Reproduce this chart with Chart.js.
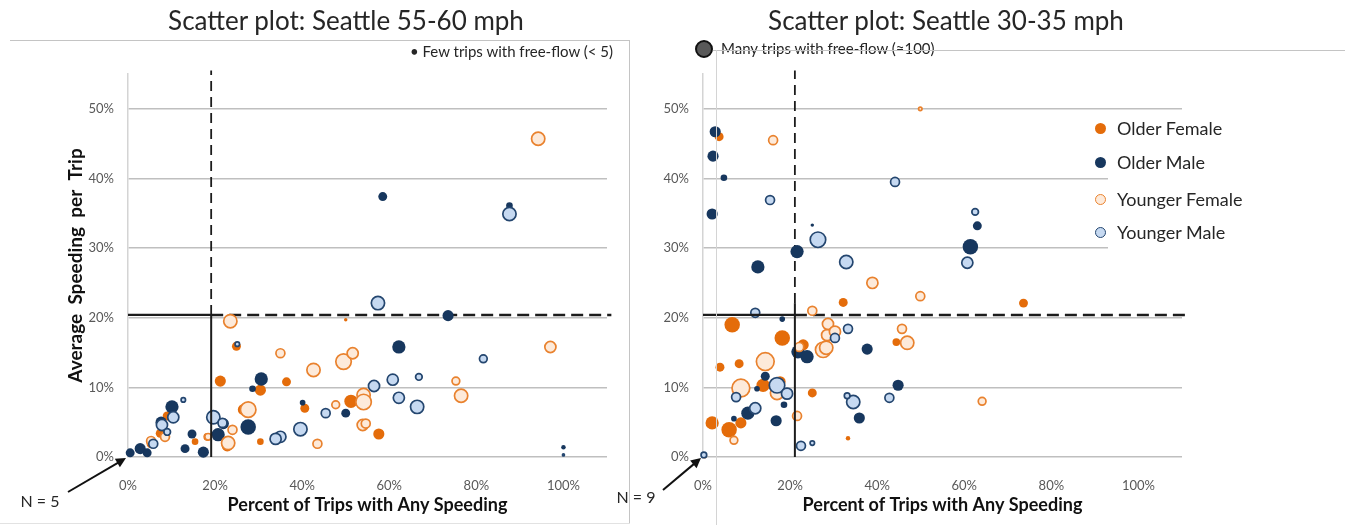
<!DOCTYPE html>
<html>
<head>
<meta charset="utf-8">
<script src="https://cdn.jsdelivr.net/npm/chart.js@4.4.1/dist/chart.umd.min.js"></script>
<style>
  body { margin: 0; width: 1345px; height: 525px; position: relative; overflow: hidden; background: #fff; font-family: Lato, "Open Sans", sans-serif; color: #262626; }
  canvas { position: absolute; top: 0; }
  .titulo { position: absolute; top: 4px; font-size: 26px; white-space: nowrap; transform: translateX(-50%); }
  .nota { position: absolute; font-size: 15px; white-space: nowrap; }
  .marco { position: absolute; background: #c4c4c4; }
  #leyenda { position: absolute; left: 1108px; top: 113px; width: 190px; height: 136px; background: #fff; }
  .fila { position: absolute; left: 9px; font-size: 18px; white-space: nowrap; }
  .punto { position: absolute; left: -22px; top: 6px; width: 11px; height: 11px; border-radius: 50%; box-sizing: border-box; }
</style>
</head>
<body>
<canvas id="chart-55" width="640" height="525" style="left:0"></canvas>
<canvas id="chart-30" width="745" height="525" style="left:600px"></canvas>

<div class="titulo" style="left:346px">Scatter plot: Seattle 55-60 mph</div>
<div class="titulo" style="left:946px">Scatter plot: Seattle 30-35 mph</div>

<div class="nota" style="left:410px; top:42px">&bull; Few trips with free-flow (&lt; 5)</div>
<div style="position:absolute; left:695px; top:40px; width:18px; height:18px; border-radius:50%; background:#595959; border:2px solid #111; box-sizing:border-box"></div>
<div class="nota" style="left:721px; top:39px">Many trips with free-flow (&asymp;100)</div>

<div class="marco" style="left:10px; top:40px; width:620px; height:1px"></div>
<div class="marco" style="left:629px; top:40px; width:1px; height:484px"></div>
<div class="marco" style="left:0; top:523px; width:630px; height:1px; background:#e2e2e2"></div>
<div class="marco" style="left:713px; top:50px; width:632px; height:1px"></div>
<div class="marco" style="left:716px; top:50px; width:1px; height:475px; background:#d4d4d4"></div>

<div id="leyenda"></div>

<script>
// ticks
const xTicks = [0, 20, 40, 60, 80, 100];
const yTicks = [0, 10, 20, 30, 40, 50];

const seriesNames = ['Older Female', 'Older Male', 'Younger Female', 'Younger Male'];

// Seattle 55-60 mph: [percent of trips with speeding, avg speeding per trip, free-flow trips]
const of55 = [[21.2,10.9,31],[36.4,10.8,20],[30.4,9.6,31],[24.9,15.9,20],[40.6,7.0,20],[30.4,2.2,11],[51.2,8.0,44],[26.5,6.8,31],[22.8,1.6,31],[15.4,2.2,11],[5.3,1.9,20],[9.0,5.9,20],[50.0,19.7,3],[57.6,3.3,31],[7.4,3.4,20],[18.2,2.9,15]];
const om55 = [[30.6,11.2,44],[28.6,9.8,11],[40.1,7.8,8],[10.1,7.2,44],[7.6,5.0,31],[14.7,3.3,20],[13.1,1.2,20],[2.8,1.2,31],[4.4,0.6,20],[0.5,0.6,20],[17.3,0.7,31],[20.7,3.2,44],[21.9,4.8,31],[27.6,4.3,60],[50.0,6.3,20],[73.5,20.3,31],[62.2,15.8,44],[100,1.4,5],[58.5,37.4,20],[87.6,36.1,11]];
const yf55 = [[94.2,45.7,44],[23.5,19.5,44],[35.0,14.9,20],[42.6,12.5,44],[49.5,13.7,60],[51.6,14.9,31],[27.6,6.8,60],[24.0,3.9,20],[23.0,2.0,44],[43.5,1.9,20],[47.7,7.5,15],[18.4,2.9,11],[8.5,2.9,20],[54.1,8.9,44],[54.1,7.9,60],[53.9,4.6,31],[54.6,4.8,20],[75.3,10.9,15],[76.5,8.8,44],[97.0,15.8,31],[5.3,2.3,20]];
const ym55 = [[57.4,22.1,44],[87.6,34.9,44],[81.6,14.1,15],[66.8,11.5,11],[60.8,11.1,31],[56.5,10.2,31],[62.2,8.5,31],[66.4,7.2,44],[25.1,16.2,5],[39.6,4.0,44],[35.0,2.9,31],[33.9,2.6,31],[45.4,6.3,20],[19.6,5.7,44],[21.7,4.9,20],[10.4,5.7,31],[7.8,4.6,31],[9.0,3.6,11],[12.7,8.2,5],[5.8,1.9,20],[100,0.3,1]];

// Seattle 30-35 mph
const of30 = [[3.7,46.0,20],[32.2,22.2,20],[73.6,22.1,20],[6.7,19.0,60],[18.2,17.1,60],[3.9,12.9,20],[8.3,13.4,20],[13.8,10.3,44],[17.7,10.8,31],[2.1,4.9,44],[6.0,3.9,60],[8.7,4.9,31],[33.3,2.7,5],[25.1,9.2,20],[23.0,16.1,31],[44.4,16.5,15],[0.3,0.2,8]];
const om30 = [[2.8,46.7,31],[2.3,43.2,31],[4.8,40.1,11],[2.1,34.9,31],[25.1,33.3,3],[21.6,29.5,44],[12.6,27.3,44],[63.0,33.2,20],[61.4,30.2,60],[18.2,19.8,8],[14.3,11.6,20],[12.4,9.8,8],[18.6,7.5,11],[10.3,6.3,44],[7.1,5.5,8],[16.8,5.2,31],[21.8,15.1,44],[23.9,14.4,44],[37.7,15.5,31],[44.8,10.3,31],[35.9,5.6,31]];
const yf30 = [[16.1,45.5,20],[49.9,50.0,3],[38.9,25.0,31],[49.9,23.1,20],[25.1,21.0,20],[14.3,13.7,79],[8.7,9.9,79],[17.0,9.2,44],[7.1,2.4,15],[21.6,5.9,20],[22.1,15.8,20],[27.6,15.4,60],[28.3,15.7,44],[28.7,19.1,31],[28.5,17.5,31],[30.3,18.0,31],[45.7,18.4,20],[46.9,16.4,44],[64.1,8.0,15]];
const ym30 = [[15.4,36.9,20],[44.1,39.5,20],[26.4,31.2,60],[32.9,28.0,44],[62.5,35.2,11],[60.7,27.9,31],[12.0,20.7,20],[17.0,10.3,60],[19.3,9.1,31],[7.6,8.6,20],[12.0,7.0,31],[22.5,1.6,20],[25.1,2.0,5],[30.3,17.1,20],[33.3,18.4,20],[42.8,8.5,20],[34.5,7.9,44],[33.1,8.8,8],[0.2,0.3,8]];

// cortes (umbral x, umbral y, tope del tramo solido)
const cut55 = { x: 19.1, y: 20.4, solidTop: 20.4, right: 111 };
const cut30 = { x: 21.1, y: 20.4, solidTop: 22.1, right: 112 };
const lineTop = 55.5;

const estilos = [
    { bg: '#E46C0A', border: '#E46C0A', bw: 0, order: 4 },
    { bg: '#17375E', border: '#17375E', bw: 0, order: 3 },
    { bg: '#FDEADA', border: '#E9822E', bw: 1.7, order: 2 },
    { bg: '#C6D9F1', border: '#24466F', bw: 1.7, order: 1 }
];

function aPuntos(filas) {
    return filas.map(([x, y, n]) => ({ x, y, r: Math.sqrt(n) }));
}

function linea(data, dash, width, order) {
    return {
        type: 'line', data, borderColor: '#1c1c1c', borderWidth: width, borderDash: dash,
        pointRadius: 0, fill: false, clip: false, order, tension: 0
    };
}

const nArrow = {
    id: 'nArrow',
    afterDraw(chart, args, o) {
        const { ctx, scales: { x, y } } = chart;
        const ox = x.getPixelForValue(0), oy = y.getPixelForValue(0);
        ctx.save();
        ctx.font = '16px Lato';
        ctx.fillStyle = '#262626';
        ctx.textAlign = 'center';
        ctx.textBaseline = 'middle';
        ctx.fillText(o.text, ox + o.tx, oy + o.ty);
        const sx = ox + o.sx, sy = oy + o.sy, ex = ox - 2, ey = oy + 1;
        const ang = Math.atan2(ey - sy, ex - sx);
        ctx.strokeStyle = '#111';
        ctx.lineWidth = 2;
        ctx.beginPath();
        ctx.moveTo(sx, sy);
        ctx.lineTo(ex - 6 * Math.cos(ang), ey - 6 * Math.sin(ang));
        ctx.stroke();
        ctx.fillStyle = '#111';
        ctx.beginPath();
        ctx.moveTo(ex, ey);
        ctx.lineTo(ex - 10 * Math.cos(ang) + 5 * Math.sin(ang), ey - 10 * Math.sin(ang) - 5 * Math.cos(ang));
        ctx.lineTo(ex - 10 * Math.cos(ang) - 5 * Math.sin(ang), ey - 10 * Math.sin(ang) + 5 * Math.cos(ang));
        ctx.closePath();
        ctx.fill();
        ctx.restore();
    }
};

function crearGrafica(id, series, cut, cfg) {
    const datasets = series.map((filas, i) => ({
        label: seriesNames[i],
        data: aPuntos(filas),
        backgroundColor: estilos[i].bg,
        borderColor: estilos[i].border,
        borderWidth: estilos[i].bw,
        order: estilos[i].order,
        clip: false
    }));
    // lineas de corte
    datasets.push(linea([{ x: 0, y: cut.y }, { x: cut.x, y: cut.y }], [], 2.2, 0));
    datasets.push(linea([{ x: cut.x, y: 0 }, { x: cut.x, y: cut.solidTop }], [], 2, 0));
    datasets.push(linea([{ x: cut.x, y: cut.y }, { x: cut.right, y: cut.y }], [12, 6], 2.6, 10));
    datasets.push(linea([{ x: cut.x, y: cut.solidTop }, { x: cut.x, y: lineTop }], [10, 6], 1.8, 10));

    return new Chart(document.getElementById(id), {
        type: 'bubble',
        data: { datasets },
        plugins: [nArrow],
        options: {
            responsive: false,
            animation: false,
            events: [],
            layout: { padding: { left: 60, right: cfg.padRight, top: 74, bottom: 0 } },
            plugins: {
                legend: { display: false },
                tooltip: { enabled: false },
                nArrow: cfg.arrow
            },
            scales: {
                x: {
                    type: 'linear', min: 0, max: 110,
                    afterBuildTicks: s => { s.ticks = xTicks.map(v => ({ value: v })); },
                    afterFit: s => { s.height = 68; },
                    grid: { display: false },
                    border: { display: false },
                    ticks: { padding: 13, color: '#595959', font: { family: 'Lato', size: 13 }, callback: v => v + '%' },
                    title: {
                        display: true, text: 'Percent of Trips with Any Speeding', color: '#111',
                        font: { family: 'Lato', size: 18, weight: 'bold' }, padding: { top: 0, bottom: 9 }
                    }
                },
                y: {
                    type: 'linear', min: 0, max: 55,
                    afterBuildTicks: s => { s.ticks = yTicks.map(v => ({ value: v })); },
                    afterFit: s => { s.width = cfg.yWidth; },
                    grid: { color: '#BFBFBF', lineWidth: 1.5, drawTicks: false },
                    border: { display: true, color: '#D4D4D4', width: 1.5 },
                    ticks: { padding: 14, color: '#595959', font: { family: 'Lato', size: 13 }, callback: v => v + '%' },
                    title: {
                        display: cfg.yTitle, text: 'Average  Speeding  per  Trip', color: '#111',
                        font: { family: 'Lato', size: 19, weight: 'bold' }, padding: { top: 4, bottom: 0 }
                    }
                }
            }
        }
    });
}

crearGrafica('chart-55', [of55, om55, yf55, ym55], cut55, {
    padRight: 33, yWidth: 68, yTitle: true,
    arrow: { text: 'N = 5', tx: -88, ty: 45, sx: -60, sy: 35 }
});
crearGrafica('chart-30', [of30, om30, yf30, ym30], cut30, {
    padRight: 163, yWidth: 43, yTitle: false,
    arrow: { text: 'N = 9', tx: -67, ty: 41, sx: -40, sy: 33 }
});

// leyenda
const leyenda = document.getElementById('leyenda');
const filasY = [4, 38, 75, 108];
seriesNames.forEach((nombre, i) => {
    const fila = document.createElement('div');
    fila.className = 'fila';
    fila.style.top = filasY[i] + 'px';
    const p = document.createElement('span');
    p.className = 'punto';
    p.style.background = estilos[i].bg;
    p.style.border = (estilos[i].bw ? 1.6 : 0) + 'px solid ' + estilos[i].border;
    fila.appendChild(p);
    fila.appendChild(document.createTextNode(nombre));
    leyenda.appendChild(fila);
});
</script>
</body>
</html>
